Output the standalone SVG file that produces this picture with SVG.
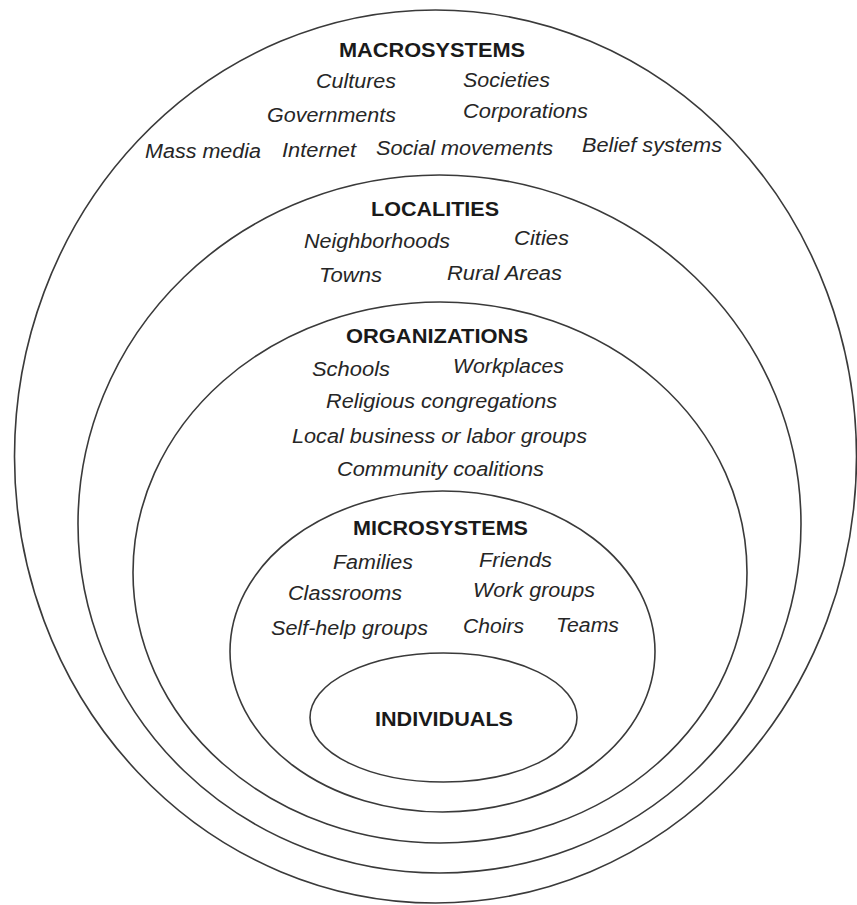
<svg xmlns="http://www.w3.org/2000/svg" width="857" height="905" viewBox="0 0 857 905">
<style>
.ring{fill:none;stroke:#3a3a3a;stroke-width:1.6}
.core{fill:#fff;stroke:#3a3a3a;stroke-width:1.6}
.h{font-family:"Liberation Sans",Arial,sans-serif;font-weight:bold;font-size:20px;fill:#1a1a1a}
.i{font-family:"Liberation Sans",Arial,sans-serif;font-style:italic;font-size:20.5px;fill:#262626}
</style>
<rect width="857" height="905" fill="#fff"/>
<g id="macrosystems">
<ellipse class="ring" cx="435.5" cy="456.5" rx="421" ry="446.5"/>
<text class="h" x="339" y="57" textLength="186" lengthAdjust="spacingAndGlyphs">MACROSYSTEMS</text>
<text class="i" x="316" y="88" textLength="80" lengthAdjust="spacingAndGlyphs">Cultures</text>
<text class="i" x="463" y="87" textLength="87" lengthAdjust="spacingAndGlyphs">Societies</text>
<text class="i" x="267" y="122" textLength="129" lengthAdjust="spacingAndGlyphs">Governments</text>
<text class="i" x="463" y="118" textLength="125" lengthAdjust="spacingAndGlyphs">Corporations</text>
<text class="i" x="145" y="158" textLength="116" lengthAdjust="spacingAndGlyphs">Mass media</text>
<text class="i" x="282" y="157" textLength="74" lengthAdjust="spacingAndGlyphs">Internet</text>
<text class="i" x="376" y="155" textLength="177" lengthAdjust="spacingAndGlyphs">Social movements</text>
<text class="i" x="582" y="152" textLength="140" lengthAdjust="spacingAndGlyphs">Belief systems</text>
</g>
<g id="localities">
<ellipse class="ring" cx="439.5" cy="524" rx="361.5" ry="349"/>
<text class="h" x="371" y="216" textLength="128" lengthAdjust="spacingAndGlyphs">LOCALITIES</text>
<text class="i" x="304" y="248" textLength="146" lengthAdjust="spacingAndGlyphs">Neighborhoods</text>
<text class="i" x="514" y="245" textLength="55" lengthAdjust="spacingAndGlyphs">Cities</text>
<text class="i" x="319" y="282" textLength="63" lengthAdjust="spacingAndGlyphs">Towns</text>
<text class="i" x="447" y="280" textLength="115" lengthAdjust="spacingAndGlyphs">Rural Areas</text>
</g>
<g id="organizations">
<ellipse class="ring" cx="440" cy="572.5" rx="307" ry="270.5"/>
<text class="h" x="346" y="343" textLength="182" lengthAdjust="spacingAndGlyphs">ORGANIZATIONS</text>
<text class="i" x="312" y="376" textLength="78" lengthAdjust="spacingAndGlyphs">Schools</text>
<text class="i" x="453" y="373" textLength="111" lengthAdjust="spacingAndGlyphs">Workplaces</text>
<text class="i" x="326" y="408" textLength="231" lengthAdjust="spacingAndGlyphs">Religious congregations</text>
<text class="i" x="292" y="443" textLength="295" lengthAdjust="spacingAndGlyphs">Local business or labor groups</text>
<text class="i" x="337" y="476" textLength="207" lengthAdjust="spacingAndGlyphs">Community coalitions</text>
</g>
<g id="microsystems">
<ellipse class="ring" cx="442.5" cy="651.5" rx="212.5" ry="160.5"/>
<text class="h" x="353" y="535" textLength="175" lengthAdjust="spacingAndGlyphs">MICROSYSTEMS</text>
<text class="i" x="333" y="569" textLength="80" lengthAdjust="spacingAndGlyphs">Families</text>
<text class="i" x="479" y="567" textLength="73" lengthAdjust="spacingAndGlyphs">Friends</text>
<text class="i" x="288" y="600" textLength="114" lengthAdjust="spacingAndGlyphs">Classrooms</text>
<text class="i" x="473" y="597" textLength="122" lengthAdjust="spacingAndGlyphs">Work groups</text>
<text class="i" x="271" y="635" textLength="157" lengthAdjust="spacingAndGlyphs">Self-help groups</text>
<text class="i" x="463" y="633" textLength="61" lengthAdjust="spacingAndGlyphs">Choirs</text>
<text class="i" x="556" y="632" textLength="63" lengthAdjust="spacingAndGlyphs">Teams</text>
</g>
<g id="individuals">
<ellipse class="core" cx="443.5" cy="717.5" rx="133.5" ry="64.5"/>
<text class="h" x="375" y="726" textLength="138" lengthAdjust="spacingAndGlyphs">INDIVIDUALS</text>
</g>
</svg>
